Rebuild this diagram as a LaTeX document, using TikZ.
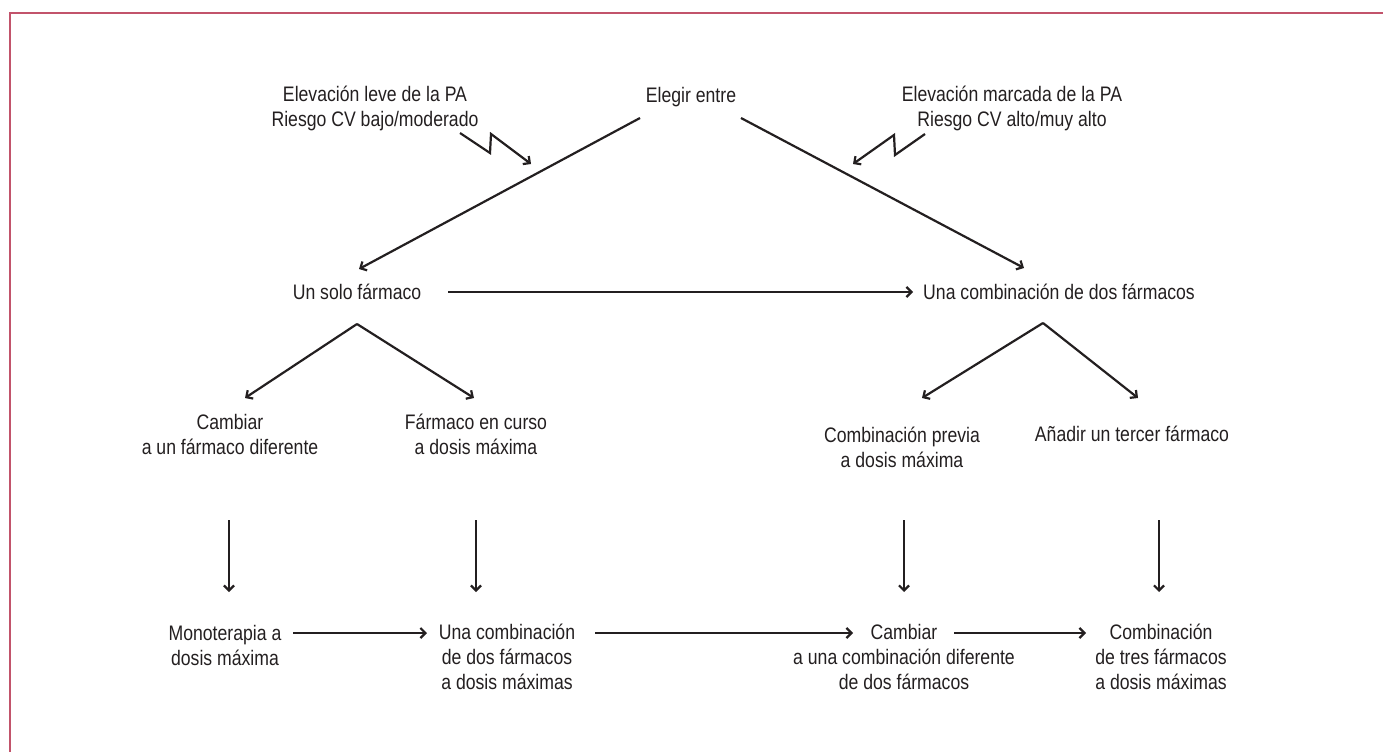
\documentclass[tikz,border=0pt]{standalone}
\usepackage{fontspec}
\setmainfont{Liberation Sans}[FakeStretch=0.84]
\usetikzlibrary{arrows.meta}
\definecolor{frame}{HTML}{C2536B}
\definecolor{ink}{HTML}{231F20}
\tikzset{
  lbl/.style={align=center, inner sep=0pt, text=ink, font=\fontsize{21}{25}\selectfont},
  arr/.style={draw=ink, line width=2.2pt, -{Straight Barb[length=5pt,width=10pt,line width=2.2pt]}},
}
\begin{document}
\begin{tikzpicture}[x=1pt,y=-1pt]
\useasboundingbox (0,0) rectangle (1383,752);
\draw[frame, line width=1.5pt] (1383,13) -- (10,13) -- (10,752);

% top
\node[lbl] (elegir) at (691,97) {Elegir entre};
\node[lbl] (leve) at (375,108) {Elevación leve de la PA\\Riesgo CV bajo/moderado};
\node[lbl] (marcada) at (1012,108) {Elevación marcada de la PA\\Riesgo CV alto/muy alto};

% level 2
\node[lbl] (solo) at (357,292) {Un solo fármaco};
\node[lbl] (dos) at (1059,292) {Una combinación de dos fármacos};

% level 3
\node[lbl] (cambiar) at (230,434) {Cambiar\\a un fármaco diferente};
\node[lbl] (curso) at (476,434) {Fármaco en curso\\a dosis máxima};
\node[lbl] (previa) at (902,447) {Combinación previa\\a dosis máxima};
\node[lbl] (anadir) at (1132,434) {Añadir un tercer fármaco};

% level 4
\node[lbl] (mono) at (225,645) {Monoterapia a\\dosis máxima};
\node[lbl] (comb2) at (507,657) {Una combinación\\de dos fármacos\\a dosis máximas};
\node[lbl] (cambcomb) at (904,657) {Cambiar\\a una combinación diferente\\de dos fármacos};
\node[lbl] (comb3) at (1161,657) {Combinación\\de tres fármacos\\a dosis máximas};

% zigzags
\draw[arr] ([shift={(85,25)}]leve.center) -- ++(30,20) -- ++(1,-19) -- ++(40,30);
\draw[arr] ([shift={(-87,26)}]marcada.center) -- ++(-30,21) -- ++(-1,-20) -- ++(-41,29);

% main diagonals
\draw[arr] ([shift={(-51,21)}]elegir.center) -- ([shift={(2,-23)}]solo.center);
\draw[arr] ([shift={(50,21)}]elegir.center) -- ([shift={(-35,-24)}]dos.center);
\draw[arr] ([shift={(91,0)}]solo.center) -- ([shift={(-146,0)}]dos.center);

% splits
\coordinate (sa) at ([shift={(0,32)}]solo.center);
\draw[arr] (sa) -- ([shift={(15,-36)}]cambiar.center);
\draw[arr] (sa) -- ([shift={(-2,-36)}]curso.center);
\coordinate (da) at ([shift={(-16,31)}]dos.center);
\draw[arr] (da) -- ([shift={(20,-49)}]previa.center);
\draw[arr] (da) -- ([shift={(6,-36)}]anadir.center);

% verticals
\draw[arr] ([shift={(-1,86)}]cambiar.center) -- ([shift={(4,-53)}]mono.center);
\draw[arr] ([shift={(0,86)}]curso.center) -- ([shift={(-31,-65)}]comb2.center);
\draw[arr] ([shift={(2,73)}]previa.center) -- ([shift={(0,-65)}]cambcomb.center);
\draw[arr] ([shift={(27,86)}]anadir.center) -- ([shift={(-2,-65)}]comb3.center);

% bottom horizontals
\draw[arr] ([shift={(68,-12)}]mono.center) -- ([shift={(-80,-24)}]comb2.center);
\draw[arr] ([shift={(88,-24)}]comb2.center) -- ([shift={(-51,-24)}]cambcomb.center);
\draw[arr] ([shift={(50,-24)}]cambcomb.center) -- ([shift={(-75,-24)}]comb3.center);
\end{tikzpicture}
\end{document}
